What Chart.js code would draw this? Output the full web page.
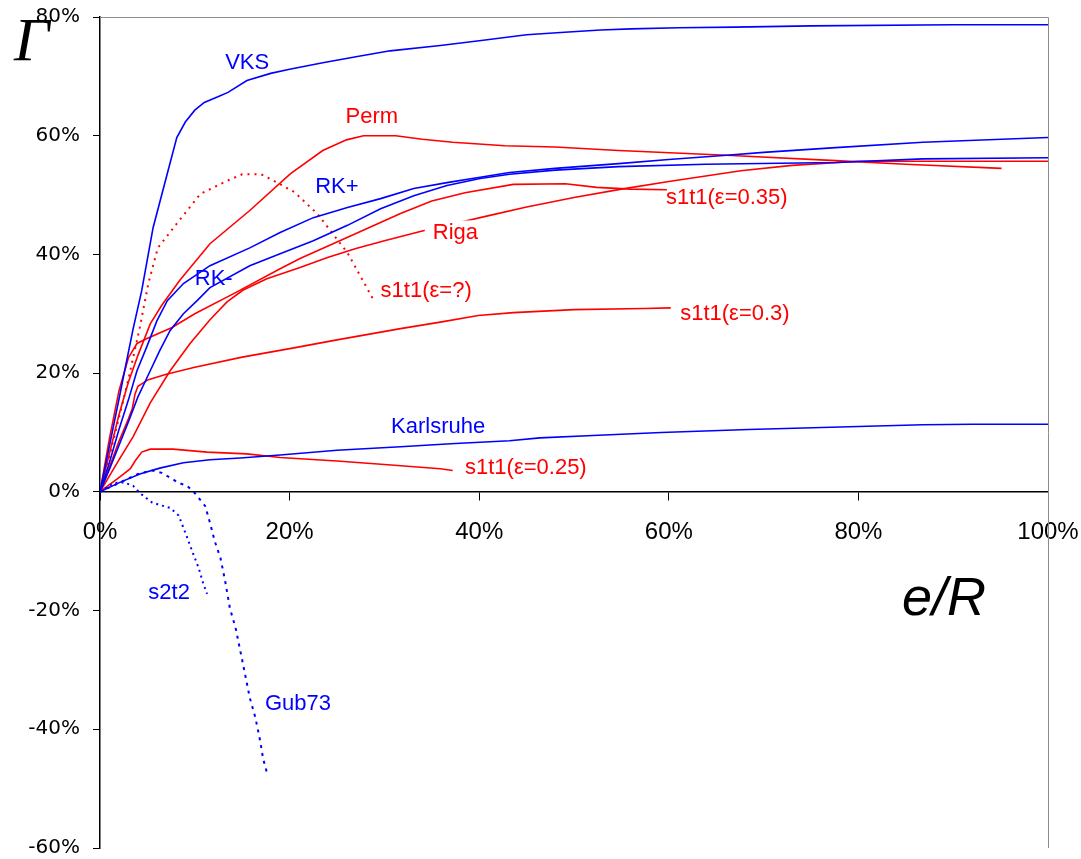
<!DOCTYPE html>
<html>
<head>
<meta charset="utf-8">
<script src="https://cdn.jsdelivr.net/npm/chart.js@4/dist/chart.umd.min.js"></script>
<style>
  html, body { margin: 0; padding: 0; background: #ffffff; }
  #wrap { width: 1081px; height: 859px; }
</style>
</head>
<body>
<div id="wrap"><canvas id="c" width="1081" height="859"></canvas></div>
<script>
// Axis ticks (percent)
const xTicks = [0, 20, 40, 60, 80, 100];
const yTicks = [-60, -40, -20, 0, 20, 40, 60, 80];

// Series: [e/R %, Gamma %]
const vks = [[0,0],[1,7.8],[2,15.6],[2.6,20.4],[3.5,27.5],[4.4,33.9],[5.6,44.5],[6.9,52.4],[8.1,59.7],[9,62.3],[10,64.3],[11,65.6],[12.5,66.6],[13.5,67.3],[15.5,69.3],[18,70.5],[20,71.2],[23.5,72.3],[27,73.3],[30.6,74.3],[35.9,75.2],[40,76.0],[45,77.0],[48.6,77.4],[52.8,77.8],[56,78.0],[61,78.2],[67,78.3],[75,78.5],[90,78.7],[100,78.7]];
const rkPlus = [[0,0],[1,5],[2,10.5],[3,15.5],[3.9,20.4],[4.9,24.3],[6.0,28.8],[7.1,32.2],[8.8,35.1],[11.6,38.1],[15.8,41.1],[19,43.7],[22.5,46.2],[26.1,47.9],[29.6,49.4],[33.1,51.1],[36.6,52.1],[40.1,53.0],[43.2,53.8],[48,54.5],[54.7,55.3],[60,56.0],[66.1,56.7],[70,57.2],[77.6,58.0],[86.8,58.9],[100,59.7]];
const rkMinus = [[0,0],[1,3.8],[2,7.8],[3,11.8],[4,16],[5.3,20.4],[6.3,23.8],[7.4,27.2],[8.8,30.0],[10.3,32.3],[11.6,34.4],[15.8,38.1],[19,40.1],[22.5,42.3],[26.1,44.9],[29.6,47.7],[33.1,49.9],[36.6,51.6],[40.1,52.8],[43.2,53.5],[48,54.2],[54.7,54.8],[63.9,55.2],[77.6,55.5],[86.8,56.1],[100,56.3]];
const karlsruhe = [[0,0],[2.1,1.6],[4.2,3.0],[6.3,4.0],[8.8,4.9],[11.6,5.4],[14.8,5.7],[19,6.2],[25,7.0],[31.7,7.6],[37,8.1],[43.2,8.6],[46.4,9.1],[52,9.5],[59.2,10.0],[68.4,10.5],[80,11.0],[86.8,11.3],[92,11.4],[100,11.4]];
const s2t2 = [[0,0],[1.5,1.5],[2.5,1.6],[3.5,1.0],[4.2,-0.2],[5.5,-1.8],[6.5,-2.3],[7.4,-2.7],[8.3,-4.0],[9.2,-7.7],[9.7,-9.9],[10.4,-12.8],[10.9,-15.5],[11.3,-17.2]];
const gub73 = [[0,0],[2,1.5],[4,3.0],[5.5,3.6],[6.5,3.2],[7.4,2.4],[8.3,1.5],[9.2,1.0],[10,-0.2],[11.1,-2.4],[11.6,-5.2],[12.1,-8.3],[12.7,-11.1],[13.2,-15.0],[13.7,-19.6],[14.3,-22.9],[14.8,-26.8],[15.3,-30.7],[15.8,-34.7],[16.4,-38.1],[16.9,-42.0],[17.2,-44.9],[17.7,-47.9]];
const perm = [[0,0],[1,6.5],[2,13],[3,18.5],[4,23],[5.3,28.3],[6.5,31.4],[8.4,35.6],[11.6,41.8],[15.8,47.4],[20.1,53.6],[23.5,57.5],[26,59.3],[27.8,60.0],[31.2,60.0],[34,59.4],[37.2,58.9],[42.7,58.3],[48,58.1],[54.7,57.5],[66.1,56.7],[77.6,55.8],[85,55.2],[95.1,54.5]];
const riga = [[0,0],[2,5.4],[3.5,9.3],[5.3,15],[7.4,20.4],[9.5,25],[11.6,29],[13.4,32],[15.1,34.0],[17.6,35.9],[21.1,37.8],[24,39.5],[27,41],[30,42.3],[34.1,44.0],[40.9,46.5],[45,48],[50,49.6],[55,51],[60,52.3],[67.6,54.1],[73,55.0],[80,55.7],[90,55.7],[100,55.7]];
const s1t1e035 = [[0,0],[1,9],[2,17],[3,22.6],[3.9,25.0],[4.9,25.8],[7.6,27.7],[10,30],[14.1,33.4],[19,37.6],[21.1,39.3],[26,42.8],[31.7,46.9],[35,49],[38.5,50.4],[43.6,51.8],[49.1,51.9],[52.4,51.3],[56,51.0],[59.8,50.9]];
const s1t1e030 = [[0,0],[1,4.2],[2,8.5],[3,12.3],[3.4,14],[3.7,16.5],[4.0,17.8],[5.1,18.9],[7,19.8],[10,21.0],[15,22.7],[20.6,24.3],[25,25.6],[31.7,27.5],[35.9,28.6],[39.9,29.7],[43.6,30.2],[50,30.7],[57.4,30.9],[60.2,31.0]];
const s1t1e025 = [[0,0],[1,1.2],[2,2.4],[3.2,3.9],[3.7,5.2],[4.4,6.7],[5.3,7.2],[7.7,7.2],[11.3,6.7],[15.5,6.4],[19,5.8],[25,5.2],[30,4.6],[35.9,3.9],[37.2,3.6]];
const s1t1eQ = [[0,0],[1,6],[2,12.5],[3,19],[4.2,27.7],[5.1,35.1],[6.1,41.1],[8.1,45.2],[10.6,50.2],[13.4,52.4],[15,53.5],[17,53.5],[18.7,52.1],[20.5,50.5],[22.9,46.9],[26.1,40.3],[29.0,31.9]];

const BLUE = '#0000ff';
const RED = '#ff0000';

// Curve labels, anchored in data coordinates
const curveLabels = [
  { text: 'VKS', x: 13.2, y: 72.3, color: BLUE },
  { text: 'Perm', x: 25.9, y: 63.1, color: RED },
  { text: 'RK+', x: 22.7, y: 51.3, color: BLUE },
  { text: 'RK-', x: 10.0, y: 35.9, color: BLUE },
  { text: 'Riga', x: 35.1, y: 43.7, color: RED, boxed: true },
  { text: 's1t1(ε=0.35)', x: 59.7, y: 49.6, color: RED },
  { text: 's1t1(ε=?)', x: 29.6, y: 33.9, color: RED },
  { text: 's1t1(ε=0.3)', x: 61.2, y: 30.0, color: RED },
  { text: 'Karlsruhe', x: 30.7, y: 11.0, color: BLUE },
  { text: 's1t1(ε=0.25)', x: 38.5, y: 4.0, color: RED },
  { text: 's2t2', x: 5.1, y: -17.0, color: BLUE },
  { text: 'Gub73', x: 17.4, y: -35.8, color: BLUE }
];

function pts(arr) { return arr.map(p => ({ x: p[0], y: p[1] })); }

function series(label, arr, color, dash) {
  return {
    label: label,
    data: pts(arr),
    showLine: true,
    borderColor: color,
    backgroundColor: color,
    borderWidth: dash ? 2 : 1.6,
    borderDash: dash || [],
    pointRadius: 0,
    tension: 0,
    fill: false
  };
}

function noPadding(scale) {
  scale.paddingTop = 0;
  scale.paddingBottom = 0;
  scale.paddingLeft = 0;
  scale.paddingRight = 0;
}

// Draws the gray plot frame, the curve labels and the axis titles
const decorations = {
  id: 'decorations',
  beforeDatasetsDraw(chart) {
    const { ctx, chartArea: a } = chart;
    ctx.save();
    ctx.strokeStyle = '#8c8c8c';
    ctx.lineWidth = 1;
    ctx.beginPath();
    ctx.moveTo(a.left, a.top + 0.5);
    ctx.lineTo(a.right + 0.5, a.top + 0.5);
    ctx.lineTo(a.right + 0.5, a.bottom);
    ctx.stroke();
    ctx.restore();
  },
  afterDatasetsDraw(chart) {
    const { ctx, scales } = chart;
    ctx.save();
    ctx.font = '22px "Liberation Sans", Arial, sans-serif';
    ctx.textBaseline = 'middle';
    ctx.textAlign = 'left';
    curveLabels.forEach(l => {
      const px = scales.x.getPixelForValue(l.x);
      const py = scales.y.getPixelForValue(l.y);
      if (l.boxed) {
        const w = ctx.measureText(l.text).width;
        ctx.fillStyle = '#ffffff';
        ctx.fillRect(px - 8, py - 12, w + 16, 24);
      }
      ctx.fillStyle = l.color;
      ctx.fillText(l.text, px, py);
    });
    // axis titles
    ctx.fillStyle = '#000000';
    ctx.font = 'italic 62px "Liberation Serif", "Times New Roman", serif';
    ctx.textAlign = 'left';
    ctx.fillText('Γ', 14, 44);
    ctx.font = 'italic 54px "Liberation Sans", Arial, sans-serif';
    ctx.fillText('e/R', 902, 600);
    ctx.restore();
  }
};

new Chart(document.getElementById('c'), {
  type: 'scatter',
  data: {
    datasets: [
      series('VKS', vks, BLUE),
      series('RK+', rkPlus, BLUE),
      series('RK-', rkMinus, BLUE),
      series('Karlsruhe', karlsruhe, BLUE),
      series('s2t2', s2t2, BLUE, [2, 4]),
      series('Gub73', gub73, BLUE, [3, 5]),
      series('Perm', perm, RED),
      series('Riga', riga, RED),
      series('s1t1(ε=0.35)', s1t1e035, RED),
      series('s1t1(ε=0.3)', s1t1e030, RED),
      series('s1t1(ε=0.25)', s1t1e025, RED),
      series('s1t1(ε=?)', s1t1eQ, RED, [2, 5])
    ]
  },
  options: {
    responsive: false,
    devicePixelRatio: 1,
    animation: false,
    layout: { padding: { top: 17, right: 33, bottom: 11, left: 0 } },
    plugins: { legend: { display: false }, tooltip: { enabled: false } },
    scales: {
      x: {
        type: 'linear',
        position: { y: 0 },
        min: xTicks[0],
        max: xTicks[xTicks.length - 1],
        afterBuildTicks(scale) { scale.ticks = xTicks.map(v => ({ value: v })); },
        afterFit(scale) { noPadding(scale); },
        grid: { drawOnChartArea: false, drawTicks: true, tickLength: 8, color: '#000000' },
        border: { display: true, color: '#000000', width: 1.5 },
        ticks: {
          color: '#000000',
          padding: 18,
          maxRotation: 0,
          font: { family: '"Liberation Sans", Arial, sans-serif', size: 24 },
          callback: v => v + '%'
        }
      },
      y: {
        type: 'linear',
        position: 'left',
        min: yTicks[0],
        max: yTicks[yTicks.length - 1],
        afterBuildTicks(scale) { scale.ticks = yTicks.map(v => ({ value: v })); },
        afterFit(scale) { scale.width = 100; noPadding(scale); },
        grid: { drawOnChartArea: false, drawTicks: true, tickLength: 7, color: '#000000' },
        border: { display: true, color: '#000000', width: 1.5 },
        ticks: {
          color: '#000000',
          padding: 13,
          font: { family: '"DejaVu Sans", Verdana, sans-serif', size: 20 },
          callback: v => v + '%'
        }
      }
    }
  },
  plugins: [decorations]
});
</script>
</body>
</html>
